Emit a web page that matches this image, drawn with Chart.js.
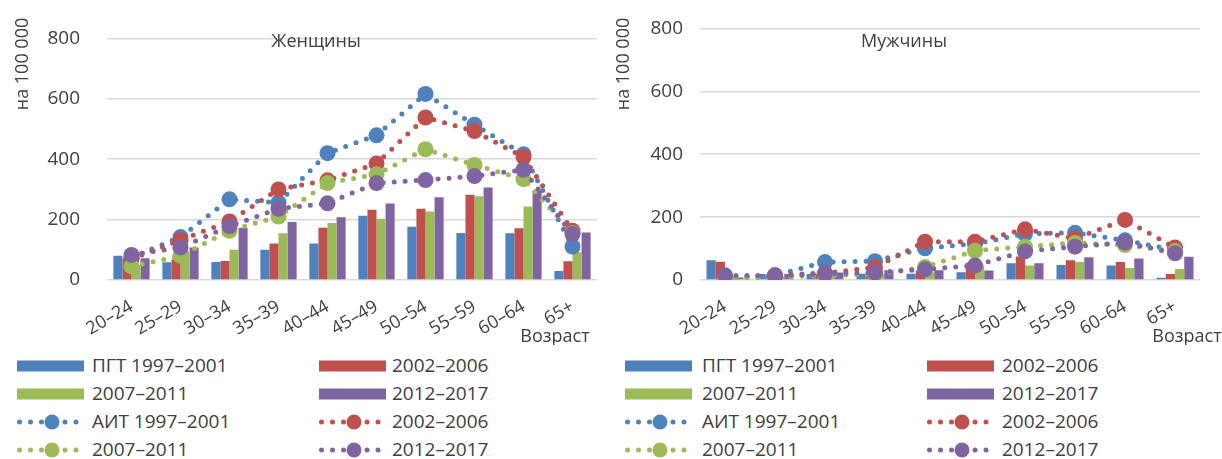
<!DOCTYPE html>
<html lang="ru">
<head>
<meta charset="utf-8">
<title>ПГТ и АИТ по возрасту</title>
<script src="https://cdn.jsdelivr.net/npm/chart.js@4.4.1/dist/chart.umd.min.js"></script>
<style>
  body { margin: 0; background: #fff; font-family: "Open Sans", sans-serif; color: #404040; }
  #wrap { position: relative; width: 1222px; height: 459px; overflow: hidden; }
  .panel { position: absolute; top: 0; }
  .lg { position: absolute; height: 20px; font-size: 19px; line-height: 20px; white-space: nowrap; }
  .lg svg { position: absolute; left: 0; top: 0; }
  .lg span { position: absolute; top: -1px; }
</style>
</head>
<body>
<div id="wrap">
  <canvas id="womenChart" class="panel" style="left:0" width="610" height="345"></canvas>
  <canvas id="menChart" class="panel" style="left:610px" width="612" height="345"></canvas>
  <div id="legendBox"></div>
</div>
<script>
// возрастные группы
const ages = ['20–24', '25–29', '30–34', '35–39', '40–44', '45–49', '50–54', '55–59', '60–64', '65+'];
const periods = ['1997–2001', '2002–2006', '2007–2011', '2012–2017'];
const colors = ['#4F81BD', '#C0504D', '#9BBB59', '#8064A2'];
const yTicks = [0, 200, 400, 600, 800];

// Женщины, ПГТ (столбики)
const womenPgt9701 = [80, 59, 60, 100, 121, 213, 176, 156, 155, 30];
const womenPgt0206 = [70, 68, 63, 121, 173, 233, 236, 282, 171, 62];
const womenPgt0711 = [50, 95, 100, 155, 189, 203, 227, 277, 243, 92];
const womenPgt1217 = [72, 108, 172, 192, 208, 253, 274, 306, 295, 157];
// Женщины, АИТ (линии)
const womenAit9701 = [75, 142, 267, 256, 420, 479, 616, 514, 416, 111];
const womenAit0206 = [70, 132, 194, 300, 330, 386, 538, 493, 407, 163];
const womenAit0711 = [45, 80, 163, 210, 321, 350, 433, 381, 334, 155];
const womenAit1217 = [83, 108, 178, 236, 254, 321, 331, 344, 365, 152];

// Мужчины, ПГТ
const menPgt9701 = [63, 19, 19, 20, 20, 25, 53, 48, 46, 7];
const menPgt0206 = [58, 15, 20, 25, 30, 55, 75, 63, 57, 19];
const menPgt0711 = [10, 12, 15, 20, 25, 45, 46, 57, 38, 35];
const menPgt1217 = [8, 19, 24, 31, 31, 30, 53, 72, 68, 74];
// Мужчины, АИТ
const menAit9701 = [2, 15, 57, 60, 101, 115, 147, 150, 126, 95];
const menAit0206 = [10, 15, 22, 40, 122, 122, 161, 132, 191, 103];
const menAit0711 = [5, 8, 15, 18, 41, 93, 106, 118, 111, 92];
const menAit1217 = [15, 13, 20, 24, 34, 46, 91, 106, 119, 85];

Chart.defaults.font.family = "'Open Sans', sans-serif";
Chart.defaults.font.size = 19;
Chart.defaults.color = '#404040';

// подписи: заголовок панели, ось Y, "Возраст"
const panelText = {
  id: 'panelText',
  afterDraw(chart, args, o) {
    const ctx = chart.ctx;
    ctx.save();
    ctx.fillStyle = '#404040';
    ctx.font = "18px 'Open Sans'";
    ctx.textBaseline = 'middle';
    ctx.textAlign = 'center';
    ctx.fillText(o.title, o.titleX, 42);
    ctx.fillText('Возраст', o.xTitleX, 337);
    ctx.translate(o.yTitleX, 64);
    ctx.rotate(-Math.PI / 2);
    ctx.fillText('на 100 000', 0, 0);
    ctx.restore();
  }
};

function makeChart(canvasId, pgt, ait, o) {
  const datasets = [];
  pgt.forEach((arr, i) => {
    datasets.push({
      type: 'bar',
      label: (i === 0 ? 'ПГТ ' : '') + periods[i],
      data: arr,
      backgroundColor: colors[i],
      borderWidth: 0,
      categoryPercentage: 0.74,
      barPercentage: 1.0,
      order: 10
    });
  });
  ait.forEach((arr, i) => {
    datasets.push({
      type: 'line',
      label: (i === 0 ? 'АИТ ' : '') + periods[i],
      data: arr,
      borderColor: colors[i],
      backgroundColor: colors[i],
      borderWidth: 5,
      borderDash: [0, 11],
      borderCapStyle: 'round',
      tension: 0,
      fill: false,
      pointRadius: 8,
      pointBorderWidth: 0,
      pointBackgroundColor: colors[i],
      order: 4 - i   // фиолетовая поверх
    });
  });

  return new Chart(document.getElementById(canvasId), {
    type: 'bar',
    data: { labels: ages, datasets: datasets },
    options: {
      responsive: false,
      animation: false,
      layout: { padding: { top: 22, right: o.padRight, left: 0, bottom: 0 } },
      plugins: {
        legend: { display: false },
        tooltip: { enabled: false },
        panelText: o
      },
      scales: {
        x: {
          grid: { display: false },
          border: { display: false },
          ticks: { minRotation: 30, maxRotation: 30, autoSkip: false, padding: 8, font: { size: 18 } },
          afterFit(scale) { scale.height = 65; }
        },
        y: {
          min: 0,
          max: 800,
          afterBuildTicks(scale) { scale.ticks = yTicks.map(v => ({ value: v })); },
          grid: { color: '#d9d9d9', lineWidth: 1.5, drawTicks: false },
          border: { display: false },
          ticks: { padding: o.tickPad },
          afterFit(scale) { scale.width = o.yWidth; }
        }
      }
    },
    plugins: [panelText]
  });
}

makeChart('womenChart',
  [womenPgt9701, womenPgt0206, womenPgt0711, womenPgt1217],
  [womenAit9701, womenAit0206, womenAit0711, womenAit1217],
  { title: 'Женщины', titleX: 316, xTitleX: 555, yTitleX: 23, yWidth: 107, tickPad: 27, padRight: 13 });

makeChart('menChart',
  [menPgt9701, menPgt0206, menPgt0711, menPgt1217],
  [menAit9701, menAit0206, menAit0711, menAit1217],
  { title: 'Мужчины', titleX: 294, xTitleX: 577, yTitleX: 14, yWidth: 90, tickPad: 17, padRight: 22 });

// легенда (HTML), 2 колонки x 4 строки под каждой панелью
const legendItems = [];
periods.forEach((p, i) => legendItems.push({ kind: 'bar', label: (i === 0 ? 'ПГТ ' : '') + p, color: colors[i] }));
periods.forEach((p, i) => legendItems.push({ kind: 'line', label: (i === 0 ? 'АИТ ' : '') + p, color: colors[i] }));

const legendRows = [366, 394, 422, 450];
const legendCols = [
  [{ sx: 17, tx: 92 }, { sx: 319, tx: 392 }],
  [{ sx: 625, tx: 702 }, { sx: 927, tx: 1002 }]
];

function sampleSvg(item) {
  if (item.kind === 'bar') {
    return `<svg width="68" height="20"><rect x="0" y="4.5" width="67" height="11" fill="${item.color}"/></svg>`;
  }
  const dots = [2.5, 13.5, 24.5, 48, 59].map(cx => `<circle cx="${cx}" cy="10" r="2.5" fill="${item.color}"/>`).join('');
  return `<svg width="68" height="20">${dots}<circle cx="35" cy="10" r="7.5" fill="${item.color}"/></svg>`;
}

const box = document.getElementById('legendBox');
legendCols.forEach(cols => {
  legendItems.forEach((item, k) => {
    const row = Math.floor(k / 2);
    const col = cols[k % 2];
    const div = document.createElement('div');
    div.className = 'lg';
    div.style.left = col.sx + 'px';
    div.style.top = (legendRows[row] - 10) + 'px';
    div.innerHTML = sampleSvg(item) + `<span style="left:${col.tx - col.sx}px">${item.label}</span>`;
    box.appendChild(div);
  });
});
</script>
</body>
</html>
